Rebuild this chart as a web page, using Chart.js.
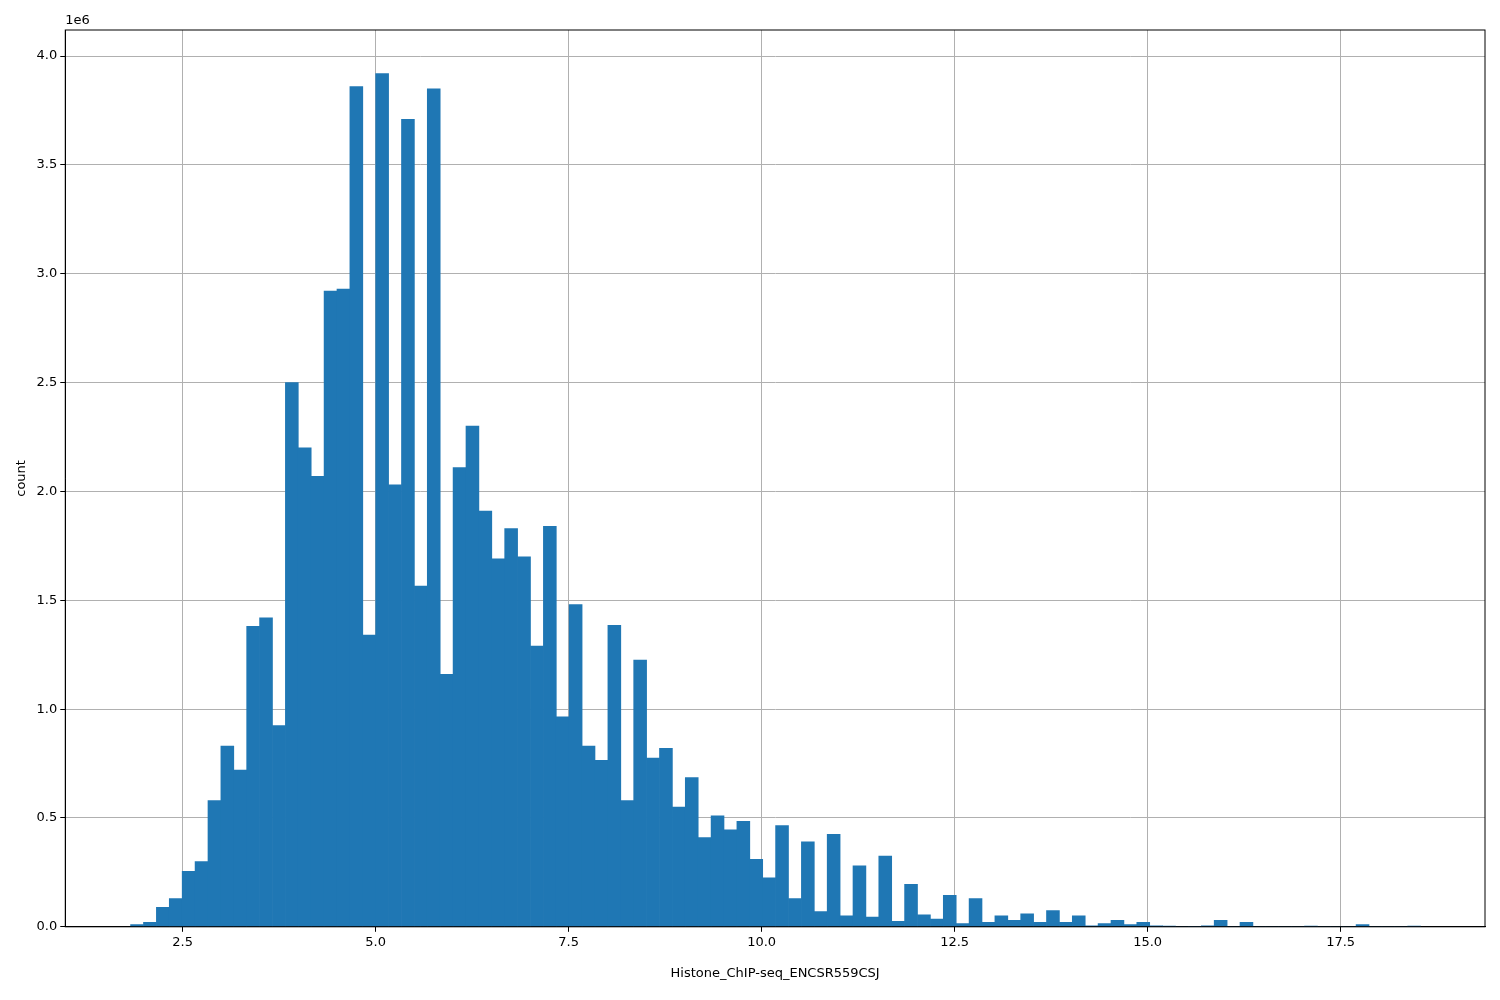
<!DOCTYPE html>
<html><head><meta charset="utf-8">
<script src="https://cdn.jsdelivr.net/npm/chart.js@4"></script>
<style>html,body{margin:0;background:#fff}#w{width:1500px;height:1000px}</style>
</head><body><div id="w"><canvas id="c"></canvas></div>
<script>
const binStart = 1.826;
const binWidth = 0.1671;
const counts = [0.01,0.02,0.09,0.13,0.255,0.30,0.58,0.83,0.72,1.38,
1.42,0.925,2.50,2.20,2.07,2.92,2.93,3.86,1.34,3.92,
2.03,3.71,1.565,3.85,1.16,2.11,2.30,1.91,1.69,1.83,
1.70,1.29,1.84,0.965,1.48,0.83,0.765,1.385,0.58,1.225,
0.775,0.82,0.55,0.685,0.41,0.51,0.445,0.485,0.31,0.225,
0.465,0.13,0.39,0.07,0.425,0.05,0.28,0.045,0.325,0.025,
0.195,0.055,0.035,0.145,0.015,0.13,0.02,0.05,0.03,0.06,
0.02,0.075,0.02,0.05,0.005,0.015,0.03,0.01,0.02,0.005,
0.003,0,0.002,0.005,0.03,0,0.02,0,0,0,
0,0.003,0,0,0,0.01,0,0,0,0.003];
const xTicks = [2.5,5.0,7.5,10.0,12.5,15.0,17.5];
const yTicks = [0,0.5,1.0,1.5,2.0,2.5,3.0,3.5,4.0];
const data = counts.map((v,i)=>({x: binStart + binWidth*(i+0.5), y: v}));
const frame = {id:'frame', afterDraw(ch){const a=ch.chartArea,c=ch.ctx;c.save();c.strokeStyle='#000';c.lineWidth=1;c.strokeRect(a.left,a.top,a.right-a.left,a.bottom-a.top);
c.fillStyle='#000';c.font='13px "DejaVu Sans"';c.textAlign='left';c.textBaseline='bottom';c.fillText('1e6',a.left,a.top-3);c.restore();}};
new Chart(document.getElementById('c'),{
 type:'bar',
 data:{datasets:[{data, backgroundColor:'#1f77b4', barPercentage:1, categoryPercentage:1, borderWidth:0}]},
 options:{responsive:true,maintainAspectRatio:false,animation:false,
  layout:{padding:{left:10,right:15,top:30,bottom:15}},
  plugins:{legend:{display:false},tooltip:{enabled:false}},
  scales:{
   x:{type:'linear',min:0.98,max:19.37,z:1,offset:false,
    afterBuildTicks:s=>{s.ticks=xTicks.map(v=>({value:v}));},
    ticks:{color:'#000',font:{family:'DejaVu Sans',size:13},callback:v=>v.toFixed(1),maxRotation:0},
    grid:{color:'#b0b0b0',tickColor:'#000',tickLength:5,offset:false},
    border:{color:'#000'},
    title:{display:true,text:'Histone_ChIP-seq_ENCSR559CSJ',color:'#000',font:{family:'DejaVu Sans',size:13},padding:{top:12}}},
   y:{min:0,max:4.12,z:1,
    afterBuildTicks:s=>{s.ticks=yTicks.map(v=>({value:v}));},
    ticks:{color:'#000',font:{family:'DejaVu Sans',size:13},callback:v=>v.toFixed(1)},
    grid:{color:'#b0b0b0',tickColor:'#000',tickLength:5},
    border:{color:'#000'},
    title:{display:true,text:'count',color:'#000',font:{family:'DejaVu Sans',size:13}}}
  }},
 plugins:[frame]
});
</script></body></html>
